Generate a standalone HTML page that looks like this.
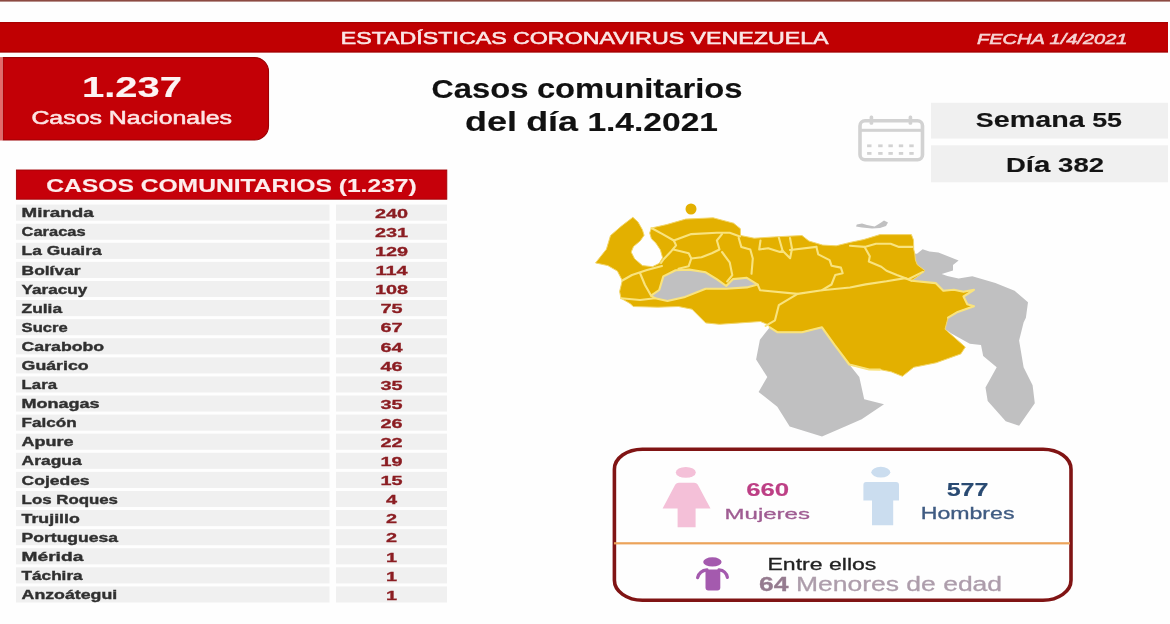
<!DOCTYPE html>
<html><head><meta charset="utf-8"><style>
html,body{margin:0;padding:0;width:1170px;height:624px;overflow:hidden;background:#fefefe;}
body{position:relative;font-family:"Liberation Sans", sans-serif;}
svg.pg{position:absolute;left:0;top:0;font-family:"Liberation Sans", sans-serif;filter:blur(0.45px);}
</style></head><body>
<svg width="1170" height="624" viewBox="0 0 1170 624" class="pg"><rect x="0" y="0" width="1170" height="624" fill="#fefefe"/><rect x="0" y="0" width="1170" height="1.6" fill="#8c4a42"/><rect x="0" y="22" width="1168" height="30.5" fill="#c00002"/><rect x="0" y="22" width="1168" height="1.2" fill="#9a0000" opacity="0.6"/><rect x="0" y="51.3" width="1168" height="1.2" fill="#8a0000" opacity="0.6"/><path d="M3 57.6 H254.5 A14 14 0 0 1 268.5 71.6 V126 A14 14 0 0 1 254.5 140 H3 Z" fill="#c30006" stroke="#9c0004" stroke-width="1.1"/><rect x="0" y="57.1" width="2.4" height="83.4" fill="#e46a6a"/><rect x="931" y="102.8" width="237" height="35.8" fill="#f0f0f0"/><rect x="931" y="145.3" width="237" height="37" fill="#f0f0f0"/><rect x="860" y="120.8" width="62.5" height="39" rx="5" fill="none" stroke="#d2d2d2" stroke-width="3.6"/><rect x="860" y="128.8" width="62.5" height="3" fill="#d2d2d2"/><rect x="869.6" y="115.4" width="3.6" height="9.4" rx="1.5" fill="#d2d2d2"/><rect x="908.6" y="115.4" width="3.6" height="9.4" rx="1.5" fill="#d2d2d2"/><rect x="867.1" y="144.4" width="4.4" height="2.8" fill="#d2d2d2"/><rect x="867.1" y="152.0" width="4.4" height="2.8" fill="#d2d2d2"/><rect x="878.2" y="144.4" width="4.4" height="2.8" fill="#d2d2d2"/><rect x="878.2" y="152.0" width="4.4" height="2.8" fill="#d2d2d2"/><rect x="888.4" y="144.4" width="4.4" height="2.8" fill="#d2d2d2"/><rect x="888.4" y="152.0" width="4.4" height="2.8" fill="#d2d2d2"/><rect x="898.8" y="144.4" width="4.4" height="2.8" fill="#d2d2d2"/><rect x="898.8" y="152.0" width="4.4" height="2.8" fill="#d2d2d2"/><rect x="909.3" y="144.4" width="4.4" height="2.8" fill="#d2d2d2"/><rect x="909.3" y="152.0" width="4.4" height="2.8" fill="#d2d2d2"/><rect x="16.4" y="170" width="430.4" height="29.2" fill="#c6000a" stroke="#a30006" stroke-width="0.9"/><rect x="16" y="204.60" width="313.5" height="16.1" fill="#f0f0f0"/><rect x="336" y="204.60" width="111" height="16.1" fill="#f0f0f0"/><rect x="16" y="223.69" width="313.5" height="16.1" fill="#f0f0f0"/><rect x="336" y="223.69" width="111" height="16.1" fill="#f0f0f0"/><rect x="16" y="242.78" width="313.5" height="16.1" fill="#f0f0f0"/><rect x="336" y="242.78" width="111" height="16.1" fill="#f0f0f0"/><rect x="16" y="261.87" width="313.5" height="16.1" fill="#f0f0f0"/><rect x="336" y="261.87" width="111" height="16.1" fill="#f0f0f0"/><rect x="16" y="280.96" width="313.5" height="16.1" fill="#f0f0f0"/><rect x="336" y="280.96" width="111" height="16.1" fill="#f0f0f0"/><rect x="16" y="300.05" width="313.5" height="16.1" fill="#f0f0f0"/><rect x="336" y="300.05" width="111" height="16.1" fill="#f0f0f0"/><rect x="16" y="319.14" width="313.5" height="16.1" fill="#f0f0f0"/><rect x="336" y="319.14" width="111" height="16.1" fill="#f0f0f0"/><rect x="16" y="338.23" width="313.5" height="16.1" fill="#f0f0f0"/><rect x="336" y="338.23" width="111" height="16.1" fill="#f0f0f0"/><rect x="16" y="357.32" width="313.5" height="16.1" fill="#f0f0f0"/><rect x="336" y="357.32" width="111" height="16.1" fill="#f0f0f0"/><rect x="16" y="376.41" width="313.5" height="16.1" fill="#f0f0f0"/><rect x="336" y="376.41" width="111" height="16.1" fill="#f0f0f0"/><rect x="16" y="395.50" width="313.5" height="16.1" fill="#f0f0f0"/><rect x="336" y="395.50" width="111" height="16.1" fill="#f0f0f0"/><rect x="16" y="414.59" width="313.5" height="16.1" fill="#f0f0f0"/><rect x="336" y="414.59" width="111" height="16.1" fill="#f0f0f0"/><rect x="16" y="433.68" width="313.5" height="16.1" fill="#f0f0f0"/><rect x="336" y="433.68" width="111" height="16.1" fill="#f0f0f0"/><rect x="16" y="452.77" width="313.5" height="16.1" fill="#f0f0f0"/><rect x="336" y="452.77" width="111" height="16.1" fill="#f0f0f0"/><rect x="16" y="471.86" width="313.5" height="16.1" fill="#f0f0f0"/><rect x="336" y="471.86" width="111" height="16.1" fill="#f0f0f0"/><rect x="16" y="490.95" width="313.5" height="16.1" fill="#f0f0f0"/><rect x="336" y="490.95" width="111" height="16.1" fill="#f0f0f0"/><rect x="16" y="510.04" width="313.5" height="16.1" fill="#f0f0f0"/><rect x="336" y="510.04" width="111" height="16.1" fill="#f0f0f0"/><rect x="16" y="529.13" width="313.5" height="16.1" fill="#f0f0f0"/><rect x="336" y="529.13" width="111" height="16.1" fill="#f0f0f0"/><rect x="16" y="548.22" width="313.5" height="16.1" fill="#f0f0f0"/><rect x="336" y="548.22" width="111" height="16.1" fill="#f0f0f0"/><rect x="16" y="567.31" width="313.5" height="16.1" fill="#f0f0f0"/><rect x="336" y="567.31" width="111" height="16.1" fill="#f0f0f0"/><rect x="16" y="586.40" width="313.5" height="16.1" fill="#f0f0f0"/><rect x="336" y="586.40" width="111" height="16.1" fill="#f0f0f0"/><path d="M769.8,327.3 L759.9,339.7 L756.1,359.6 L767.3,377.0 L758.6,391.9 L777.3,406.8 L789.7,426.6 L822.0,436.6 L839.4,429.0 L861.7,419.2 L884.0,404.3 L864.2,399.3 L859.3,377.0 L849.3,364.5 L834.4,344.7 L822.0,327.3 L802.0,332.2 L777.3,332.2 Z" fill="#c0c0c1" stroke="none" stroke-width="0" stroke-linejoin="round" /><path d="M917.0,253.7 L922.6,249.2 L929.4,251.4 L938.4,252.5 L947.3,255.9 L958.6,260.4 L953.0,264.9 L953.0,270.5 L941.7,273.9 L947.3,276.1 L958.6,278.4 L972.3,276.3 L995.4,283.0 L1014.6,290.8 L1028.0,302.3 L1025.9,317.7 L1023.6,322.4 L1019.1,340.4 L1023.6,367.3 L1032.6,385.3 L1034.8,403.2 L1019.1,425.7 L1005.7,421.2 L987.7,401.0 L985.5,387.5 L996.7,367.3 L983.2,356.1 L981.0,344.9 L969.8,343.8 L951.8,333.7 L945.0,329.2 L948.0,317.7 L957.7,311.9 L974.0,306.2 L967.3,304.2 L963.5,296.5 L974.0,289.8 L963.5,291.7 L953.8,289.8 L943.3,290.8 L935.6,283.1 L911.5,280.7 L919.2,275.4 L925.0,270.6 L917.3,264.8 L915.4,260.0 L914.8,253.7 Z" fill="#c0c0c1" stroke="none" stroke-width="0" stroke-linejoin="round" /><path d="M632.9,217.3 L638.0,222.0 L642.4,229.7 L644.1,235.3 L640.2,240.9 L633.5,246.5 L631.2,252.1 L634.6,258.8 L642.4,265.6 L652.5,266.7 L659.3,263.3 L662.6,257.7 L660.4,249.9 L655.9,243.1 L651.4,238.7 L649.7,233.0 L651.4,228.0 L666.6,224.6 L685.7,219.1 L713.1,217.8 L733.6,223.2 L740.4,228.7 L740.5,235.5 L754.2,238.2 L774.7,236.9 L802.0,235.5 L808.9,241.0 L822.6,245.1 L836.2,245.8 L850.0,242.4 L863.6,239.6 L880.0,234.6 L911.4,234.6 L913.5,240.0 L913.7,249.2 L914.8,253.7 L915.4,260.0 L917.3,264.8 L925.0,270.6 L919.2,275.4 L911.5,280.7 L935.6,283.1 L943.3,290.8 L953.8,289.8 L963.5,291.7 L974.0,289.8 L963.5,296.5 L967.3,304.2 L974.0,306.2 L957.7,311.9 L948.0,317.7 L945.0,329.2 L965.3,347.1 L960.8,353.9 L936.1,362.8 L913.7,367.3 L902.4,376.3 L891.2,371.8 L880.0,369.6 L869.2,369.5 L849.3,364.5 L834.4,344.7 L822.0,327.3 L802.0,332.2 L777.3,332.2 L769.8,327.3 L767.3,324.3 L760.4,321.5 L739.9,322.9 L719.4,324.3 L705.7,322.9 L692.0,309.2 L678.4,306.5 L657.9,307.2 L633.2,306.5 L630.5,303.8 L621.0,298.3 L619.6,291.5 L622.3,280.5 L617.4,271.1 L607.8,265.6 L595.5,262.9 L606.4,249.2 L610.5,235.6 L621.5,226.0 Z" fill="#e3b000" stroke="#f3d66a" stroke-width="1.0" stroke-linejoin="round" /><path d="M651.0,295.6 L659.2,290.0 L663.3,276.4 L675.6,270.3 L689.3,269.6 L705.7,272.3 L716.7,279.1 L726.2,286.0 L733.1,279.1 L746.8,277.8 L757.7,284.6 L746.8,287.4 L726.2,288.7 L705.7,288.7 L685.2,296.9 L667.4,301.0 L655.1,298.3 Z" fill="#c0c0c1" stroke="#f9e37e" stroke-width="2.1" stroke-linejoin="round" /><path d="M856.8,224.6 L862.0,223.5 L867.0,225.0 L874.6,226.5 L880.0,223.2 L884.0,220.5 L888.0,222.5 L886.0,226.0 L880.0,228.0 L872.0,228.5 L862.0,227.5 L856.0,226.5 Z" fill="#c0c0c1" stroke="none" stroke-width="0" stroke-linejoin="round" /><circle cx="691" cy="209" r="5.5" fill="#e3b000"/><path d="M651.4,228.0 L662.6,234.2 L673.8,240.5 L691.3,234.1 L716.9,232.8 L729.7,232.8 L740.0,236.5" fill="none" stroke="#f9e37e" stroke-width="2.1" stroke-linejoin="round" stroke-linecap="round"/><path d="M673.8,240.5 L676.1,245.4 L670.5,252.1 L663.8,259.0 L661.0,263.0" fill="none" stroke="#f9e37e" stroke-width="2.1" stroke-linejoin="round" stroke-linecap="round"/><path d="M673.3,249.5 L688.7,253.3 L691.3,258.5 L701.5,257.2 L711.8,253.3 L719.5,249.5 L716.9,240.5 L722.0,234.1" fill="none" stroke="#f9e37e" stroke-width="2.1" stroke-linejoin="round" stroke-linecap="round"/><path d="M691.3,258.5 L688.7,266.2 L678.5,268.7" fill="none" stroke="#f9e37e" stroke-width="2.1" stroke-linejoin="round" stroke-linecap="round"/><path d="M622.3,280.5 L632.0,275.0 L647.0,270.0 L662.0,266.0" fill="none" stroke="#f9e37e" stroke-width="2.1" stroke-linejoin="round" stroke-linecap="round"/><path d="M640.0,273.0 L645.0,285.0 L651.0,295.6" fill="none" stroke="#f9e37e" stroke-width="2.1" stroke-linejoin="round" stroke-linecap="round"/><path d="M621.0,298.3 L640.0,300.0 L655.0,298.3" fill="none" stroke="#f9e37e" stroke-width="2.1" stroke-linejoin="round" stroke-linecap="round"/><path d="M722.0,252.0 L729.7,262.3 L732.3,275.1 L727.2,281.5" fill="none" stroke="#f9e37e" stroke-width="2.1" stroke-linejoin="round" stroke-linecap="round"/><path d="M738.7,238.0 L741.3,246.9 L750.3,249.5 L752.8,258.5 L751.5,273.8" fill="none" stroke="#f9e37e" stroke-width="2.1" stroke-linejoin="round" stroke-linecap="round"/><path d="M760.5,240.5 L759.2,249.5 L768.2,248.2 L780.0,252.0 L782.6,250.7 L790.1,258.2 L792.0,248.8 L790.0,238.0" fill="none" stroke="#f9e37e" stroke-width="2.1" stroke-linejoin="round" stroke-linecap="round"/><path d="M790.0,250.0 L816.4,246.9" fill="none" stroke="#f9e37e" stroke-width="2.1" stroke-linejoin="round" stroke-linecap="round"/><path d="M816.4,246.9 L818.3,254.4 L829.6,260.1 L831.5,265.7 L840.9,267.6 L842.7,273.2 L835.2,275.1 L831.5,284.5 L822.0,290.2 L797.6,293.9 L760.0,290.2 L757.7,284.6" fill="none" stroke="#f9e37e" stroke-width="2.1" stroke-linejoin="round" stroke-linecap="round"/><path d="M797.6,293.9 L778.8,305.2 L775.0,320.3 L765.6,325.9" fill="none" stroke="#f9e37e" stroke-width="2.1" stroke-linejoin="round" stroke-linecap="round"/><path d="M822.0,290.2 L850.0,287.5 L865.6,284.4 L886.5,281.3 L905.2,278.1 L911.5,280.7" fill="none" stroke="#f9e37e" stroke-width="2.1" stroke-linejoin="round" stroke-linecap="round"/><path d="M911.5,280.7 L935.6,283.1 L943.3,290.8 L953.8,289.8 L963.5,291.7 L974.0,289.8 L963.5,296.5 L967.3,304.2 L974.0,306.2 L957.7,311.9 L948.0,317.7" fill="none" stroke="#f9e37e" stroke-width="2.1" stroke-linejoin="round" stroke-linecap="round"/><path d="M864.6,246.9 L869.8,256.3 L868.8,261.5 L881.3,266.7 L886.5,270.8 L896.9,275.0 L908.3,279.2 L922.9,271.9" fill="none" stroke="#f9e37e" stroke-width="2.1" stroke-linejoin="round" stroke-linecap="round"/><path d="M850.0,245.8 L864.6,246.9 L876.0,243.8 L890.6,243.8 L899.0,246.9 L912.5,246.9" fill="none" stroke="#f9e37e" stroke-width="2.1" stroke-linejoin="round" stroke-linecap="round"/><path d="M778.8,237.5 L782.6,250.7" fill="none" stroke="#f9e37e" stroke-width="2.1" stroke-linejoin="round" stroke-linecap="round"/><path d="M769.8,327.3 L777.3,332.2 L802.0,332.2 L822.0,327.3 L834.4,344.7 L849.3,364.5 L869.2,369.5 L880.0,369.6" fill="none" stroke="#f9e37e" stroke-width="2.1" stroke-linejoin="round" stroke-linecap="round"/><rect x="614.4" y="449.2" width="456.6" height="151" rx="28" ry="20" fill="#fefefe" stroke="#801414" stroke-width="3.6"/><rect x="614" y="542.2" width="456" height="2.2" fill="#eca35a"/><ellipse cx="685.8" cy="472.4" rx="10" ry="5.4" fill="#f4c0d8"/><path d="M679 482.8 H694 Q697 482.8 698.5 486 L710.5 508.6 H695.6 V527.2 H677.6 V508.6 H662.6 L674.5 486 Q676 482.8 679 482.8 Z" fill="#f4c0d8"/><ellipse cx="880.8" cy="472.2" rx="9.5" ry="5.4" fill="#cbddef"/><path d="M866 482 H896 Q899 482 899 485 V500.4 H893.2 V525.2 H872 V500.4 H863.4 V485 Q863.4 482 866 482 Z" fill="#cbddef"/><ellipse cx="712.4" cy="561.9" rx="9.2" ry="4.6" fill="#a45aae"/><path d="M705.5 569.5 H720.3 V587.5 Q720.3 590.4 717.4 590.4 H708.4 Q705.5 590.4 705.5 587.5 Z" fill="#a45aae"/><path d="M707 569.8 Q699.5 570.5 697.6 577.6 M719 569.8 Q726 570.5 727.4 577.4" fill="none" stroke="#a45aae" stroke-width="3.2" stroke-linecap="round"/><text x="340.70" y="44.40" font-size="17.04" font-weight="normal" font-style="normal" fill="#fbe6e6" stroke="#fbe6e6" stroke-width="0.55" textLength="487.90" lengthAdjust="spacingAndGlyphs" >ESTADÍSTICAS CORONAVIRUS VENEZUELA</text><text x="977.00" y="44.20" font-size="14.66" font-weight="normal" font-style="italic" fill="#f7d3d3" stroke="#f7d3d3" stroke-width="0.55" textLength="150.50" lengthAdjust="spacingAndGlyphs" >FECHA 1/4/2021</text><text x="82.00" y="97.00" font-size="29.75" font-weight="bold" font-style="normal" fill="#fdf3f3" stroke="#fdf3f3" stroke-width="0.15" textLength="100.00" lengthAdjust="spacingAndGlyphs" >1.237</text><text x="31.40" y="124.00" font-size="18.58" font-weight="normal" font-style="normal" fill="#fde4e4" stroke="#fde4e4" stroke-width="0.55" textLength="200.60" lengthAdjust="spacingAndGlyphs" >Casos Nacionales</text><text x="431.60" y="98.40" font-size="25.28" font-weight="bold" font-style="normal" fill="#111111" stroke="#111111" stroke-width="0.15" textLength="311.00" lengthAdjust="spacingAndGlyphs" >C<tspan font-size="27.05">asos</tspan> <tspan font-size="27.05">comunitarios</tspan></text><text x="465.00" y="131.20" font-size="25.30" font-weight="bold" font-style="normal" fill="#111111" stroke="#111111" stroke-width="0.15" textLength="253.00" lengthAdjust="spacingAndGlyphs" ><tspan font-size="27.07">del</tspan> <tspan font-size="27.07">día</tspan> 1.4.2021</text><text x="975.80" y="127.00" font-size="20.39" font-weight="bold" font-style="normal" fill="#141414" stroke="#141414" stroke-width="0.15" textLength="146.20" lengthAdjust="spacingAndGlyphs" >S<tspan font-size="21.82">emana</tspan> 55</text><text x="1006.00" y="171.60" font-size="20.11" font-weight="bold" font-style="normal" fill="#141414" stroke="#141414" stroke-width="0.15" textLength="98.00" lengthAdjust="spacingAndGlyphs" >D<tspan font-size="21.52">ía</tspan> 382</text><text x="46.20" y="192.00" font-size="18.58" font-weight="bold" font-style="normal" fill="#fdecec" stroke="#fdecec" stroke-width="0.15" textLength="370.60" lengthAdjust="spacingAndGlyphs" >CASOS COMUNITARIOS (1.237)</text><text x="21.6" y="217.30" font-size="12" font-weight="bold" fill="#303030" stroke="#303030" stroke-width="0.35" textLength="72" lengthAdjust="spacingAndGlyphs">Miranda</text><text transform="translate(391.5 217.90) scale(1.53 1)" text-anchor="middle" font-size="13" font-weight="bold" fill="#8b1d22" stroke="#8b1d22" stroke-width="0.3">240</text><text x="21.6" y="236.39" font-size="12" font-weight="bold" fill="#303030" stroke="#303030" stroke-width="0.35" textLength="64" lengthAdjust="spacingAndGlyphs">Caracas</text><text transform="translate(391.5 236.99) scale(1.53 1)" text-anchor="middle" font-size="13" font-weight="bold" fill="#8b1d22" stroke="#8b1d22" stroke-width="0.3">231</text><text x="21.6" y="255.48" font-size="12" font-weight="bold" fill="#303030" stroke="#303030" stroke-width="0.35" textLength="80" lengthAdjust="spacingAndGlyphs">La Guaira</text><text transform="translate(391.5 256.08) scale(1.53 1)" text-anchor="middle" font-size="13" font-weight="bold" fill="#8b1d22" stroke="#8b1d22" stroke-width="0.3">129</text><text x="21.6" y="274.57" font-size="12" font-weight="bold" fill="#303030" stroke="#303030" stroke-width="0.35" textLength="59" lengthAdjust="spacingAndGlyphs">Bolívar</text><text transform="translate(391.5 275.17) scale(1.53 1)" text-anchor="middle" font-size="13" font-weight="bold" fill="#8b1d22" stroke="#8b1d22" stroke-width="0.3">114</text><text x="21.6" y="293.66" font-size="12" font-weight="bold" fill="#303030" stroke="#303030" stroke-width="0.35" textLength="65.7" lengthAdjust="spacingAndGlyphs">Yaracuy</text><text transform="translate(391.5 294.26) scale(1.53 1)" text-anchor="middle" font-size="13" font-weight="bold" fill="#8b1d22" stroke="#8b1d22" stroke-width="0.3">108</text><text x="21.6" y="312.75" font-size="12" font-weight="bold" fill="#303030" stroke="#303030" stroke-width="0.35" textLength="40.5" lengthAdjust="spacingAndGlyphs">Zulia</text><text transform="translate(391.5 313.35) scale(1.53 1)" text-anchor="middle" font-size="13" font-weight="bold" fill="#8b1d22" stroke="#8b1d22" stroke-width="0.3">75</text><text x="21.6" y="331.84" font-size="12" font-weight="bold" fill="#303030" stroke="#303030" stroke-width="0.35" textLength="46" lengthAdjust="spacingAndGlyphs">Sucre</text><text transform="translate(391.5 332.44) scale(1.53 1)" text-anchor="middle" font-size="13" font-weight="bold" fill="#8b1d22" stroke="#8b1d22" stroke-width="0.3">67</text><text x="21.6" y="350.93" font-size="12" font-weight="bold" fill="#303030" stroke="#303030" stroke-width="0.35" textLength="82.6" lengthAdjust="spacingAndGlyphs">Carabobo</text><text transform="translate(391.5 351.53) scale(1.53 1)" text-anchor="middle" font-size="13" font-weight="bold" fill="#8b1d22" stroke="#8b1d22" stroke-width="0.3">64</text><text x="21.6" y="370.02" font-size="12" font-weight="bold" fill="#303030" stroke="#303030" stroke-width="0.35" textLength="67" lengthAdjust="spacingAndGlyphs">Guárico</text><text transform="translate(391.5 370.62) scale(1.53 1)" text-anchor="middle" font-size="13" font-weight="bold" fill="#8b1d22" stroke="#8b1d22" stroke-width="0.3">46</text><text x="21.6" y="389.11" font-size="12" font-weight="bold" fill="#303030" stroke="#303030" stroke-width="0.35" textLength="35.4" lengthAdjust="spacingAndGlyphs">Lara</text><text transform="translate(391.5 389.71) scale(1.53 1)" text-anchor="middle" font-size="13" font-weight="bold" fill="#8b1d22" stroke="#8b1d22" stroke-width="0.3">35</text><text x="21.6" y="408.20" font-size="12" font-weight="bold" fill="#303030" stroke="#303030" stroke-width="0.35" textLength="78" lengthAdjust="spacingAndGlyphs">Monagas</text><text transform="translate(391.5 408.80) scale(1.53 1)" text-anchor="middle" font-size="13" font-weight="bold" fill="#8b1d22" stroke="#8b1d22" stroke-width="0.3">35</text><text x="21.6" y="427.29" font-size="12" font-weight="bold" fill="#303030" stroke="#303030" stroke-width="0.35" textLength="55" lengthAdjust="spacingAndGlyphs">Falcón</text><text transform="translate(391.5 427.89) scale(1.53 1)" text-anchor="middle" font-size="13" font-weight="bold" fill="#8b1d22" stroke="#8b1d22" stroke-width="0.3">26</text><text x="21.6" y="446.38" font-size="12" font-weight="bold" fill="#303030" stroke="#303030" stroke-width="0.35" textLength="52" lengthAdjust="spacingAndGlyphs">Apure</text><text transform="translate(391.5 446.98) scale(1.53 1)" text-anchor="middle" font-size="13" font-weight="bold" fill="#8b1d22" stroke="#8b1d22" stroke-width="0.3">22</text><text x="21.6" y="465.47" font-size="12" font-weight="bold" fill="#303030" stroke="#303030" stroke-width="0.35" textLength="60" lengthAdjust="spacingAndGlyphs">Aragua</text><text transform="translate(391.5 466.07) scale(1.53 1)" text-anchor="middle" font-size="13" font-weight="bold" fill="#8b1d22" stroke="#8b1d22" stroke-width="0.3">19</text><text x="21.6" y="484.56" font-size="12" font-weight="bold" fill="#303030" stroke="#303030" stroke-width="0.35" textLength="68" lengthAdjust="spacingAndGlyphs">Cojedes</text><text transform="translate(391.5 485.16) scale(1.53 1)" text-anchor="middle" font-size="13" font-weight="bold" fill="#8b1d22" stroke="#8b1d22" stroke-width="0.3">15</text><text x="21.6" y="503.65" font-size="12" font-weight="bold" fill="#303030" stroke="#303030" stroke-width="0.35" textLength="96.4" lengthAdjust="spacingAndGlyphs">Los Roques</text><text transform="translate(391.5 504.25) scale(1.53 1)" text-anchor="middle" font-size="13" font-weight="bold" fill="#8b1d22" stroke="#8b1d22" stroke-width="0.3">4</text><text x="21.6" y="522.74" font-size="12" font-weight="bold" fill="#303030" stroke="#303030" stroke-width="0.35" textLength="58.2" lengthAdjust="spacingAndGlyphs">Trujillo</text><text transform="translate(391.5 523.34) scale(1.53 1)" text-anchor="middle" font-size="13" font-weight="bold" fill="#8b1d22" stroke="#8b1d22" stroke-width="0.3">2</text><text x="21.6" y="541.83" font-size="12" font-weight="bold" fill="#303030" stroke="#303030" stroke-width="0.35" textLength="96.4" lengthAdjust="spacingAndGlyphs">Portuguesa</text><text transform="translate(391.5 542.43) scale(1.53 1)" text-anchor="middle" font-size="13" font-weight="bold" fill="#8b1d22" stroke="#8b1d22" stroke-width="0.3">2</text><text x="21.6" y="560.92" font-size="12" font-weight="bold" fill="#303030" stroke="#303030" stroke-width="0.35" textLength="61.7" lengthAdjust="spacingAndGlyphs">Mérida</text><text transform="translate(391.5 561.52) scale(1.53 1)" text-anchor="middle" font-size="13" font-weight="bold" fill="#8b1d22" stroke="#8b1d22" stroke-width="0.3">1</text><text x="21.6" y="580.01" font-size="12" font-weight="bold" fill="#303030" stroke="#303030" stroke-width="0.35" textLength="61" lengthAdjust="spacingAndGlyphs">Táchira</text><text transform="translate(391.5 580.61) scale(1.53 1)" text-anchor="middle" font-size="13" font-weight="bold" fill="#8b1d22" stroke="#8b1d22" stroke-width="0.3">1</text><text x="21.6" y="599.10" font-size="12" font-weight="bold" fill="#303030" stroke="#303030" stroke-width="0.35" textLength="95.6" lengthAdjust="spacingAndGlyphs">Anzoátegui</text><text transform="translate(391.5 599.70) scale(1.53 1)" text-anchor="middle" font-size="13" font-weight="bold" fill="#8b1d22" stroke="#8b1d22" stroke-width="0.3">1</text><text x="746.20" y="496.00" font-size="18.16" font-weight="bold" font-style="normal" fill="#bd3f85" stroke="#bd3f85" stroke-width="0.15" textLength="43.00" lengthAdjust="spacingAndGlyphs" >660</text><text x="724.60" y="519.20" font-size="15.50" font-weight="normal" font-style="normal" fill="#9f5c92" stroke="#9f5c92" stroke-width="0.3" textLength="85.40" lengthAdjust="spacingAndGlyphs" >Mujeres</text><text x="946.70" y="496.30" font-size="18.16" font-weight="bold" font-style="normal" fill="#294a72" stroke="#294a72" stroke-width="0.15" textLength="41.80" lengthAdjust="spacingAndGlyphs" >577</text><text x="920.70" y="519.40" font-size="16.50" font-weight="normal" font-style="normal" fill="#3f5b82" stroke="#3f5b82" stroke-width="0.3" textLength="93.80" lengthAdjust="spacingAndGlyphs" >Hombres</text><text x="767.50" y="570.10" font-size="16.62" font-weight="normal" font-style="normal" fill="#222222" stroke="#222222" stroke-width="0.3" textLength="108.90" lengthAdjust="spacingAndGlyphs" >Entre ellos</text><text x="759.1" y="590.5" font-size="20" fill="#ad9dab" stroke="#ad9dab" stroke-width="0.3" textLength="243" lengthAdjust="spacingAndGlyphs"><tspan font-weight="bold" fill="#957b8f" stroke="#957b8f">64</tspan> Menores de edad</text></svg>
</body></html>
